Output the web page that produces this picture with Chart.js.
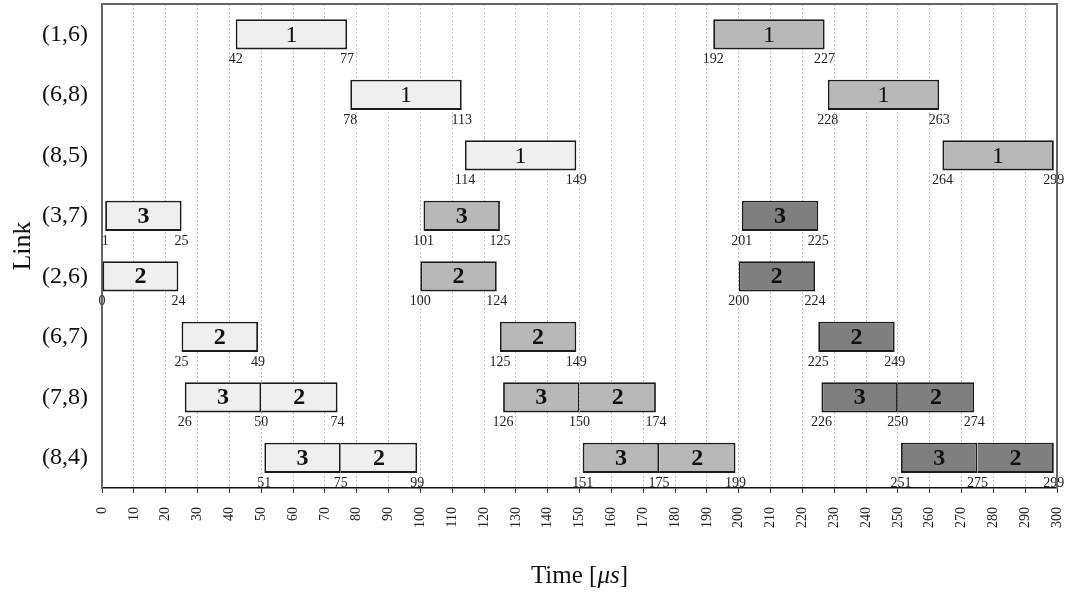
<!DOCTYPE html>
<html>
<head>
<meta charset="utf-8">
<title>Link schedule</title>
<script src="https://cdn.jsdelivr.net/npm/chart.js@4/dist/chart.umd.min.js"></script>
<style>
  html, body { margin: 0; padding: 0; background: #fff; }
  #wrap { width: 1072px; height: 595px; position: relative; }
</style>
</head>
<body>
<div id="wrap"><canvas id="c" width="1072" height="595"></canvas></div>
<script>
// Links, top to bottom
const links = ['(1,6)', '(6,8)', '(8,5)', '(3,7)', '(2,6)', '(6,7)', '(7,8)', '(8,4)'];

// Transmission slots: link index, start, end (µs), flow id, and round (0 = first, 1 = second, 2 = third)
const segLink  = [0,  1,   2,   3, 4,  5,  6,  6,  7,  7,
                  0,   1,   2,   3,   4,   5,   6,   6,   7,   7,
                  3,   4,   5,   6,   6,   7,   7];
const segStart = [42, 78,  114, 1, 0,  25, 26, 50, 51, 75,
                  192, 228, 264, 101, 100, 125, 126, 150, 151, 175,
                  201, 200, 225, 226, 250, 251, 275];
const segEnd   = [77, 113, 149, 25, 24, 49, 50, 74, 75, 99,
                  227, 263, 299, 125, 124, 149, 150, 174, 175, 199,
                  225, 224, 249, 250, 274, 275, 299];
const segFlow  = [1,  1,   1,   3, 2,  2,  3,  2,  3,  2,
                  1,   1,   1,   3,   2,   2,   3,   2,   3,   2,
                  3,   2,   2,   3,   2,   3,   2];
const segRound = [0,  0,   0,   0, 0,  0,  0,  0,  0,  0,
                  1,   1,   1,   1,   1,   1,   1,   1,   1,   1,
                  2,   2,   2,   2,   2,   2,   2];

// Time axis ticks
const timeMin = 0, timeMax = 300, timeStep = 10;

const roundFill = ['#efefef', '#b8b8b8', '#7f7f7f'];
const FONT = '"Liberation Serif", "DejaVu Serif", serif';

// A slot that directly follows another one on the same link shares its left edge
function followsAnother(i) {
  return segEnd.some((e, j) => j !== i && segLink[j] === segLink[i] && e === segStart[i]);
}

const datasets = [0, 1, 2].map(r => {
  const data = [], flows = [], joined = [];
  segRound.forEach((rr, i) => {
    if (rr !== r) return;
    data.push({ y: links[segLink[i]], x: [segStart[i], segEnd[i]] });
    flows.push(segFlow[i]);
    joined.push(followsAnother(i));
  });
  return {
    data,
    flows,
    backgroundColor: roundFill[r],
    borderColor: '#1c1c1c',
    borderWidth: 1.8,
    borderSkipped: ctx => (joined[ctx.dataIndex] ? 'start' : false),
    grouped: false,
    barPercentage: 0.5,
    categoryPercentage: 1.0
  };
});

// Flow id inside each slot, start/end times underneath
const slotLabels = {
  id: 'slotLabels',
  afterDatasetsDraw(chart) {
    const ctx = chart.ctx;
    const xs = chart.scales.x;
    const seen = new Set();
    ctx.save();
    chart.data.datasets.forEach((ds, di) => {
      const meta = chart.getDatasetMeta(di);
      meta.data.forEach((el, i) => {
        const p = el.getProps(['x', 'y', 'base', 'height'], true);
        const cx = (p.x + p.base) / 2;
        const flow = ds.flows[i];
        ctx.fillStyle = '#111';
        ctx.textAlign = 'center';
        ctx.textBaseline = 'middle';
        ctx.font = (flow === 1 ? '' : 'bold ') + '24px ' + FONT;
        ctx.fillText(String(flow), cx, p.y + 1);

        const [s, e] = ds.data[i].x;
        ctx.font = '14px ' + FONT;
        ctx.fillStyle = '#222';
        const yl = p.y + p.height / 2 + 10;
        [s, e].forEach(v => {
          const key = ds.data[i].y + ':' + v;
          if (seen.has(key)) return;
          seen.add(key);
          ctx.fillText(String(v), xs.getPixelForValue(v), yl);
        });
      });
    });
    ctx.restore();
  }
};

// Closing frame lines and the axis titles
const frameAndTitles = {
  id: 'frameAndTitles',
  afterDraw(chart) {
    const ctx = chart.ctx;
    const a = chart.chartArea;
    ctx.save();
    ctx.strokeStyle = '#666';
    ctx.lineWidth = 2;
    ctx.beginPath();
    ctx.moveTo(a.left, a.top);
    ctx.lineTo(a.right, a.top);
    ctx.lineTo(a.right, a.bottom);
    ctx.stroke();

    ctx.fillStyle = '#111';
    ctx.textBaseline = 'alphabetic';
    ctx.textAlign = 'left';
    const parts = [['Time [', '25px ' + FONT], ['μs', 'italic 25px ' + FONT], [']', '25px ' + FONT]];
    let w = 0;
    parts.forEach(([t, f]) => { ctx.font = f; w += ctx.measureText(t).width; });
    let x = (a.left + a.right) / 2 - w / 2;
    parts.forEach(([t, f]) => { ctx.font = f; ctx.fillText(t, x, 583); x += ctx.measureText(t).width; });

    ctx.translate(23, (a.top + a.bottom) / 2);
    ctx.rotate(-Math.PI / 2);
    ctx.textAlign = 'center';
    ctx.textBaseline = 'middle';
    ctx.font = '26px ' + FONT;
    ctx.fillText('Link', 0, 0);
    ctx.restore();
  }
};

new Chart(document.getElementById('c'), {
  type: 'bar',
  data: { labels: links, datasets },
  plugins: [slotLabels, frameAndTitles],
  options: {
    indexAxis: 'y',
    responsive: false,
    animation: false,
    layout: { padding: { top: 4, right: 15, left: 0, bottom: 0 } },
    plugins: { legend: { display: false }, tooltip: { enabled: false } },
    scales: {
      x: {
        type: 'linear',
        min: timeMin,
        max: timeMax,
        afterFit(scale) {
          scale.height = 107;
          scale.paddingLeft = 0;
          scale.paddingRight = 0;
        },
        ticks: {
          stepSize: timeStep,
          autoSkip: false,
          minRotation: 90,
          maxRotation: 90,
          padding: 14,
          color: '#222',
          font: { family: FONT, size: 14 }
        },
        grid: {
          color: '#c4c4c4',
          lineWidth: 1,
          tickLength: 5,
          tickColor: '#333',
          tickBorderDash: []
        },
        border: { color: '#111', width: 1.5, dash: [2, 2] }
      },
      y: {
        type: 'category',
        offset: true,
        afterFit(scale) {
          scale.width = 102;
          scale.paddingTop = 0;
          scale.paddingBottom = 0;
        },
        ticks: {
          padding: 14,
          color: '#111',
          font: { family: FONT, size: 24 }
        },
        grid: { display: false, drawTicks: false },
        border: { color: '#666', width: 2 }
      }
    }
  }
});
</script>
</body>
</html>
